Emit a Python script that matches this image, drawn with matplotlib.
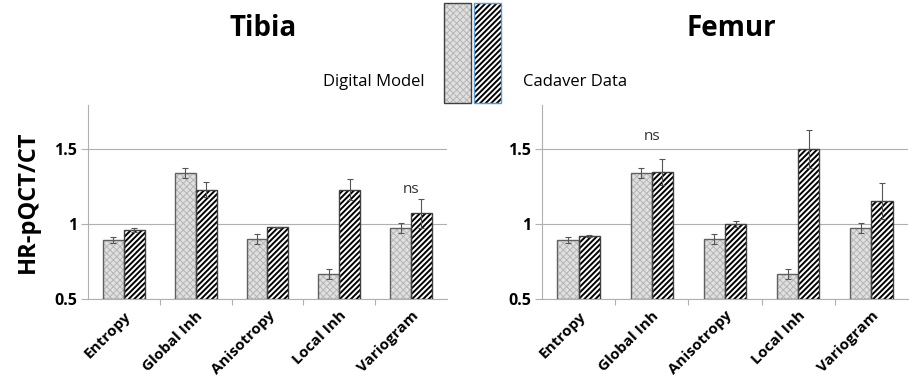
import matplotlib
matplotlib.use("Agg")
import matplotlib.pyplot as plt
from matplotlib.patches import Rectangle
import numpy as np

plt.rcParams['font.family'] = ['Open Sans', 'DejaVu Sans']

categories = ['Entropy', 'Global Inh', 'Anisotropy', 'Local Inh', 'Variogram']

# Tibia
tibia_model = [0.893, 1.338, 0.900, 0.664, 0.975]
tibia_model_err = [0.020, 0.033, 0.033, 0.034, 0.034]
tibia_cadaver = [0.960, 1.227, 0.978, 1.227, 1.071]
tibia_cadaver_err = [0.015, 0.050, 0.004, 0.070, 0.095]

# Femur
femur_model = [0.893, 1.338, 0.900, 0.664, 0.975]
femur_model_err = [0.020, 0.033, 0.033, 0.034, 0.034]
femur_cadaver = [0.920, 1.344, 1.000, 1.500, 1.153]
femur_cadaver_err = [0.008, 0.087, 0.018, 0.125, 0.122]

# "ns" marks: (panel, category index, height)
ns_marks = [('Tibia', 4, 1.233), ('Femur', 1, 1.582)]

BASE = 0.5
W = 0.29
EDGE = '#404040'
DM_EDGE = '#606060'
DM_FACE = '#e0e0e0'
DM_HATCH = '#b5b5b5'
AXIS_GRAY = '#b0b0b0'

fig = plt.figure(figsize=(9.09, 3.8), dpi=100)
ax_t = fig.add_axes([0.0968, 0.2132, 0.3949, 0.5105])
ax_f = fig.add_axes([0.5963, 0.2132, 0.4026, 0.5105])


def draw_panel(ax, title, model, model_err, cadaver, cadaver_err):
    x = np.arange(len(categories))
    m = np.array(model) - BASE
    c = np.array(cadaver) - BASE
    # digital model: fine gray checker
    with plt.rc_context({'hatch.linewidth': 0.7}):
        ax.bar(x - W / 2, m, W, bottom=BASE, color=DM_FACE, hatch='xxxxx',
               edgecolor=DM_HATCH, linewidth=0, zorder=3)
    ax.bar(x - W / 2, m, W, bottom=BASE, fill=False, edgecolor=DM_EDGE,
           linewidth=1.0, zorder=4)
    # cadaver: black diagonal lines
    with plt.rc_context({'hatch.linewidth': 1.4}):
        ax.bar(x + W / 2, c, W, bottom=BASE, color='white', hatch='//////',
               edgecolor='black', linewidth=0, zorder=3)
    ax.bar(x + W / 2, c, W, bottom=BASE, fill=False, edgecolor=EDGE,
           linewidth=1.0, zorder=4)
    ax.errorbar(x - W / 2, model, yerr=model_err, fmt='none', ecolor='#555555',
                elinewidth=0.8, capsize=2, capthick=0.8, zorder=5)
    ax.errorbar(x + W / 2, cadaver, yerr=cadaver_err, fmt='none', ecolor='#555555',
                elinewidth=0.8, capsize=2, capthick=0.8, zorder=5)

    ax.set_xlim(-0.5, len(categories) - 0.5)
    ax.set_ylim(0.5, 1.793)
    ax.set_yticks([0.5, 1, 1.5])
    ax.set_yticklabels(['0.5', '1', '1.5'], fontsize=11.5, fontweight='bold')
    ax.set_xticks(x)
    ax.set_xticklabels(categories, rotation=45, ha='right', rotation_mode='anchor',
                       fontsize=11, fontweight='bold')
    ax.tick_params(axis='x', which='major', length=0, pad=7)
    # category separators like the spreadsheet axis
    ax.set_xticks(np.arange(0.5, len(categories) - 0.5), minor=True)
    ax.tick_params(axis='x', which='minor', length=4, color=AXIS_GRAY, width=0.8)
    ax.tick_params(axis='y', length=5, color=AXIS_GRAY, width=0.8, pad=3)
    ax.grid(axis='y', color=AXIS_GRAY, linewidth=0.8, zorder=0)
    ax.set_axisbelow(True)
    for s in ['top', 'right']:
        ax.spines[s].set_visible(False)
    for s in ['left', 'bottom']:
        ax.spines[s].set_color(AXIS_GRAY)
        ax.spines[s].set_linewidth(0.8)

    for panel, idx, h in ns_marks:
        if panel == title:
            ax.text(idx, h, 'ns', ha='center', va='center', fontsize=11,
                    color='#333333')


draw_panel(ax_t, 'Tibia', tibia_model, tibia_model_err, tibia_cadaver, tibia_cadaver_err)
draw_panel(ax_f, 'Femur', femur_model, femur_model_err, femur_cadaver, femur_cadaver_err)

ax_t.set_ylabel('HR-pQCT/CT', fontsize=17, fontweight='bold', labelpad=10)

fig.text(0.290, 0.925, 'Tibia', ha='center', va='center', fontsize=20, fontweight='bold')
fig.text(0.804, 0.925, 'Femur', ha='center', va='center', fontsize=20, fontweight='bold')

# legend boxes, placed between the two titles
with plt.rc_context({'hatch.linewidth': 0.7}):
    fig.add_artist(Rectangle((0.4884, 0.729), 0.0298, 0.263, transform=fig.transFigure,
                             facecolor=DM_FACE, hatch='xxxxx', edgecolor=DM_HATCH, linewidth=0))
fig.add_artist(Rectangle((0.4884, 0.729), 0.0298, 0.263, transform=fig.transFigure,
                         fill=False, edgecolor=EDGE, linewidth=1.0))
with plt.rc_context({'hatch.linewidth': 1.4}):
    fig.add_artist(Rectangle((0.5215, 0.729), 0.0297, 0.263, transform=fig.transFigure,
                             facecolor='white', hatch='//////', edgecolor='black', linewidth=0))
fig.add_artist(Rectangle((0.5215, 0.729), 0.0297, 0.263, transform=fig.transFigure,
                         fill=False, edgecolor='#5b9bd5', linewidth=1.0))
fig.text(0.4675, 0.784, 'Digital Model', ha='right', va='center', fontsize=12)
fig.text(0.575, 0.784, 'Cadaver Data', ha='left', va='center', fontsize=12)

fig.savefig('out.png', dpi=100)
